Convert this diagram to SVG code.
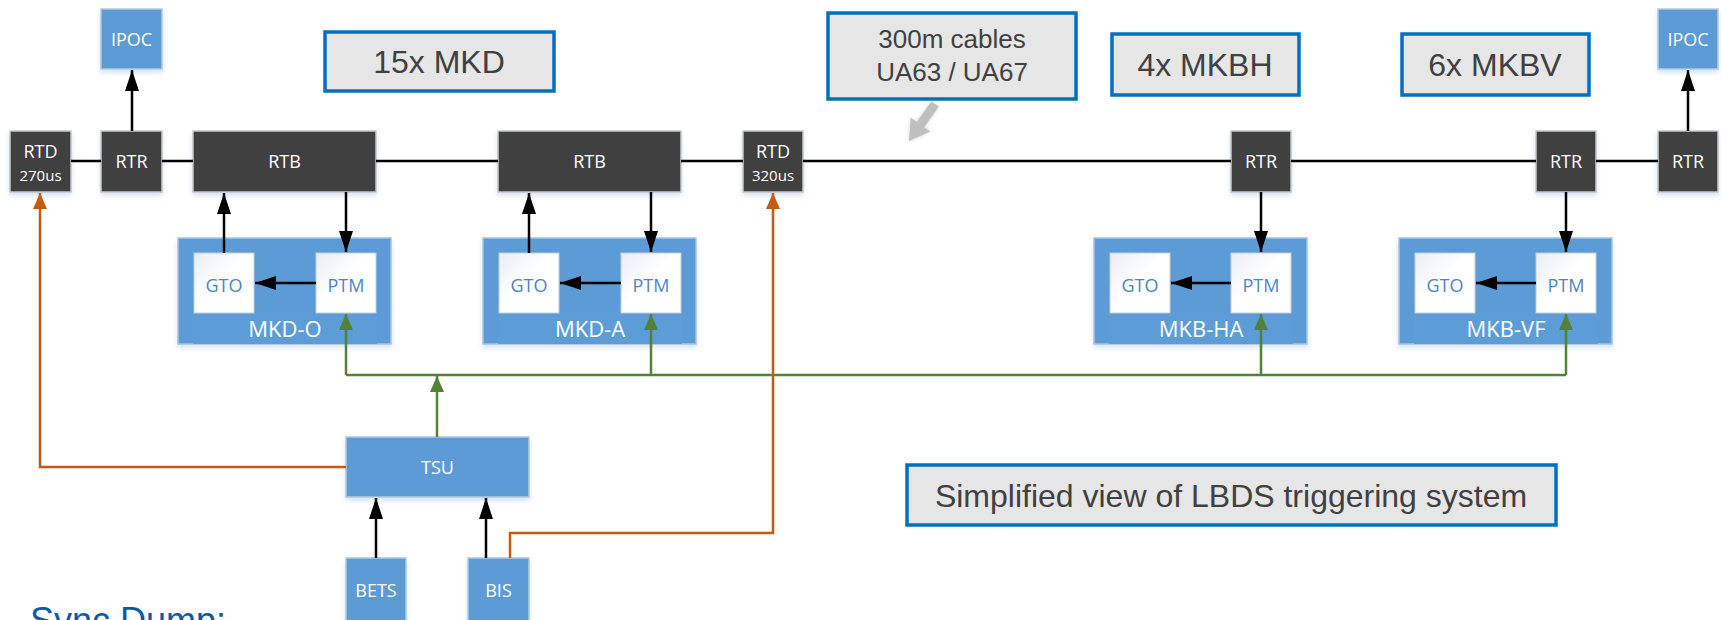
<svg xmlns="http://www.w3.org/2000/svg" width="1721" height="620" viewBox="0 0 1721 620">
<defs>
<style>
.dark{fill:#404040;stroke:#C8C8C8;stroke-width:1.5;filter:url(#sh)}
.blue{fill:#5B9BD5;stroke:#B4C9E2;stroke-width:1.5;filter:url(#sh)}
.cont{fill:#5B9BD5;stroke:#A9C4E4;stroke-width:1.5;filter:url(#sh)}
.band{fill:#5D9DD7;stroke:none}
.white{fill:url(#wg);stroke:#BFCDE0;stroke-width:1}
.lbl{fill:#FFFFFF;font-family:"Open Sans","Noto Sans",sans-serif;font-size:18px;text-anchor:middle}
.small{font-size:15px}
.clbl{fill:#FFFFFF;font-family:"Open Sans","Noto Sans",sans-serif;font-size:22px;text-anchor:middle}
.inner{fill:#4A86C8;font-family:"Open Sans","Noto Sans",sans-serif;font-size:18px;text-anchor:middle}
.note{fill:#E6E6E6;stroke:#0070C0;stroke-width:3.5}
.ntxt{fill:#404040;font-family:"Liberation Sans",Arial,sans-serif;font-size:32px;text-anchor:middle}
.ntxt2{fill:#404040;font-family:"Liberation Sans",Arial,sans-serif;font-size:26px;text-anchor:middle}
.blk{stroke:#000000;stroke-width:2.5;fill:none}
.org{stroke:#C55A11;stroke-width:2.5;fill:none}
.grn{stroke:#548235;stroke-width:2.5;fill:none}
</style>
<linearGradient id="wg" x1="0" y1="0" x2="1" y2="1">
<stop offset="0" stop-color="#E8ECF5"/>
<stop offset="0.45" stop-color="#FFFFFF"/>
<stop offset="1" stop-color="#FFFFFF"/>
</linearGradient>
<filter id="sh" x="-10%" y="-10%" width="120%" height="130%">
<feDropShadow dx="0" dy="3" stdDeviation="2.5" flood-color="#9DC3E6" flood-opacity="0.45"/>
</filter>
<filter id="glow" x="-50%" y="-50%" width="200%" height="200%">
<feDropShadow dx="0" dy="0" stdDeviation="2" flood-color="#BFBFBF" flood-opacity="0.6"/>
</filter>
<marker id="ab" markerUnits="userSpaceOnUse" markerWidth="21" markerHeight="14" refX="21" refY="7" viewBox="0 0 21 14" orient="auto">
<path d="M0,0 L21,7 L0,14 Z" fill="#000000"/>
</marker>
<marker id="ao" markerUnits="userSpaceOnUse" markerWidth="16" markerHeight="14" refX="16" refY="7" viewBox="0 0 16 14" orient="auto">
<path d="M0,0 L16,7 L0,14 Z" fill="#C55A11"/>
</marker>
<marker id="ag" markerUnits="userSpaceOnUse" markerWidth="16" markerHeight="14" refX="16" refY="7" viewBox="0 0 16 14" orient="auto">
<path d="M0,0 L16,7 L0,14 Z" fill="#548235"/>
</marker>
</defs>
<rect width="1721" height="620" fill="#FFFFFF"/>

<g id="note-mkd"><rect class="note" x="325" y="32" width="229" height="59"/><text class="ntxt" x="439" y="73">15x MKD</text></g>
<g id="note-cables"><rect class="note" x="828" y="13" width="248" height="86"/><text class="ntxt2" x="952" y="48">300m cables</text><text class="ntxt2" x="952" y="81">UA63 / UA67</text></g>
<g id="note-mkbh"><rect class="note" x="1112" y="34" width="187" height="61"/><text class="ntxt" x="1205" y="76">4x MKBH</text></g>
<g id="note-mkbv"><rect class="note" x="1402" y="34" width="187" height="61"/><text class="ntxt" x="1495" y="76">6x MKBV</text></g>
<g id="note-title"><rect class="note" x="907" y="465" width="649" height="60"/><text class="ntxt" x="1231" y="507">Simplified view of LBDS triggering system</text></g>

<g id="ipoc1"><rect class="blue" x="101" y="9" width="61" height="60"/><text class="lbl" x="131.5" y="46">IPOC</text></g>
<g id="ipoc2"><rect class="blue" x="1658" y="9" width="60" height="60"/><text class="lbl" x="1688" y="46">IPOC</text></g>

<g id="rtd1"><rect class="dark" x="10" y="131" width="61" height="61"/><text class="lbl" x="40.5" y="158">RTD</text><text class="lbl small" x="40.5" y="181">270us</text></g>
<g id="rtr1"><rect class="dark" x="101" y="131" width="61" height="61"/><text class="lbl" x="131.5" y="168">RTR</text></g>
<g id="rtb1"><rect class="dark" x="193" y="131" width="183" height="61"/><text class="lbl" x="284.5" y="168">RTB</text></g>
<g id="rtb2"><rect class="dark" x="498" y="131" width="183" height="61"/><text class="lbl" x="589.5" y="168">RTB</text></g>
<g id="rtd2"><rect class="dark" x="743" y="131" width="60" height="61"/><text class="lbl" x="773" y="158">RTD</text><text class="lbl small" x="773" y="181">320us</text></g>
<g id="rtr-ha"><rect class="dark" x="1231" y="131" width="60" height="61"/><text class="lbl" x="1261" y="168">RTR</text></g>
<g id="rtr-vf"><rect class="dark" x="1536" y="131" width="60" height="61"/><text class="lbl" x="1566" y="168">RTR</text></g>
<g id="rtr3"><rect class="dark" x="1658" y="131" width="60" height="61"/><text class="lbl" x="1688" y="168">RTR</text></g>

<g id="mkd-o"><rect class="cont" x="178" y="238" width="213" height="106"/><rect class="band" x="193" y="315" width="184" height="29"/>
<rect class="white" x="194" y="253" width="60" height="60"/><text class="inner" x="224" y="292">GTO</text>
<rect class="white" x="316" y="253" width="60" height="60"/><text class="inner" x="346" y="292">PTM</text>
<text class="clbl" x="285" y="337">MKD-O</text></g>
<g id="mkd-a"><rect class="cont" x="483" y="238" width="213" height="106"/><rect class="band" x="498" y="315" width="184" height="29"/>
<rect class="white" x="499" y="253" width="60" height="60"/><text class="inner" x="529" y="292">GTO</text>
<rect class="white" x="621" y="253" width="60" height="60"/><text class="inner" x="651" y="292">PTM</text>
<text class="clbl" x="590" y="337">MKD-A</text></g>
<g id="mkb-ha"><rect class="cont" x="1094" y="238" width="213" height="106"/><rect class="band" x="1109" y="315" width="184" height="29"/>
<rect class="white" x="1110" y="253" width="60" height="60"/><text class="inner" x="1140" y="292">GTO</text>
<rect class="white" x="1231" y="253" width="60" height="60"/><text class="inner" x="1261" y="292">PTM</text>
<text class="clbl" x="1201" y="337">MKB-HA</text></g>
<g id="mkb-vf"><rect class="cont" x="1399" y="238" width="213" height="106"/><rect class="band" x="1414" y="315" width="184" height="29"/>
<rect class="white" x="1415" y="253" width="60" height="60"/><text class="inner" x="1445" y="292">GTO</text>
<rect class="white" x="1536" y="253" width="60" height="60"/><text class="inner" x="1566" y="292">PTM</text>
<text class="clbl" x="1506" y="337">MKB-VF</text></g>

<g id="tsu"><rect class="blue" x="346" y="437" width="183" height="60"/><text class="lbl" x="437.5" y="474">TSU</text></g>
<g id="bets"><rect class="blue" x="346" y="558" width="60" height="64"/><text class="lbl" x="376" y="597">BETS</text></g>
<g id="bis"><rect class="blue" x="468" y="558" width="61" height="64"/><text class="lbl" x="498.5" y="597">BIS</text></g>

<g id="connectors">
<g stroke="#000" stroke-width="2.5">
<line x1="71" y1="161" x2="101" y2="161"/>
<line x1="162" y1="161" x2="193" y2="161"/>
<line x1="376" y1="161" x2="498" y2="161"/>
<line x1="681" y1="161" x2="743" y2="161"/>
<line x1="803" y1="161" x2="1231" y2="161"/>
<line x1="1291" y1="161" x2="1536" y2="161"/>
<line x1="1596" y1="161" x2="1658" y2="161"/>
</g>
<line class="blk" x1="132" y1="131" x2="132" y2="70" marker-end="url(#ab)"/>
<line class="blk" x1="1688" y1="131" x2="1688" y2="70" marker-end="url(#ab)"/>
<line class="blk" x1="224" y1="253" x2="224" y2="193" marker-end="url(#ab)"/>
<line class="blk" x1="346" y1="192" x2="346" y2="252" marker-end="url(#ab)"/>
<line class="blk" x1="529" y1="253" x2="529" y2="193" marker-end="url(#ab)"/>
<line class="blk" x1="651" y1="192" x2="651" y2="252" marker-end="url(#ab)"/>
<line class="blk" x1="1261" y1="192" x2="1261" y2="252" marker-end="url(#ab)"/>
<line class="blk" x1="1566" y1="192" x2="1566" y2="252" marker-end="url(#ab)"/>
<line class="blk" x1="316" y1="283" x2="255" y2="283" marker-end="url(#ab)"/>
<line class="blk" x1="621" y1="283" x2="560" y2="283" marker-end="url(#ab)"/>
<line class="blk" x1="1231" y1="283" x2="1171" y2="283" marker-end="url(#ab)"/>
<line class="blk" x1="1536" y1="283" x2="1476" y2="283" marker-end="url(#ab)"/>
<line class="blk" x1="376" y1="558" x2="376" y2="498" marker-end="url(#ab)"/>
<line class="blk" x1="486" y1="558" x2="486" y2="498" marker-end="url(#ab)"/>
<polyline class="grn" points="346,375 1566,375"/>
<line class="grn" x1="346" y1="375" x2="346" y2="314" marker-end="url(#ag)"/>
<line class="grn" x1="651" y1="375" x2="651" y2="314" marker-end="url(#ag)"/>
<line class="grn" x1="1261" y1="375" x2="1261" y2="314" marker-end="url(#ag)"/>
<line class="grn" x1="1566" y1="375" x2="1566" y2="314" marker-end="url(#ag)"/>
<line class="grn" x1="437" y1="437" x2="437" y2="376" marker-end="url(#ag)"/>
<polyline class="org" points="346,467 40,467 40,193" marker-end="url(#ao)"/>
<polyline class="org" points="510,558 510,533 773,533 773,193" marker-end="url(#ao)"/>
<polygon points="938.7,106.6 924.2,127.2 930.3,131.5 909,141 910.7,117.7 916.8,122 931.3,101.4" fill="#BFBFBF" filter="url(#glow)"/>
</g>

<text x="30" y="633" fill="#0B5AA8" font-family="'Liberation Sans',Arial,sans-serif" font-size="36">Sync Dump:</text>
</svg>
